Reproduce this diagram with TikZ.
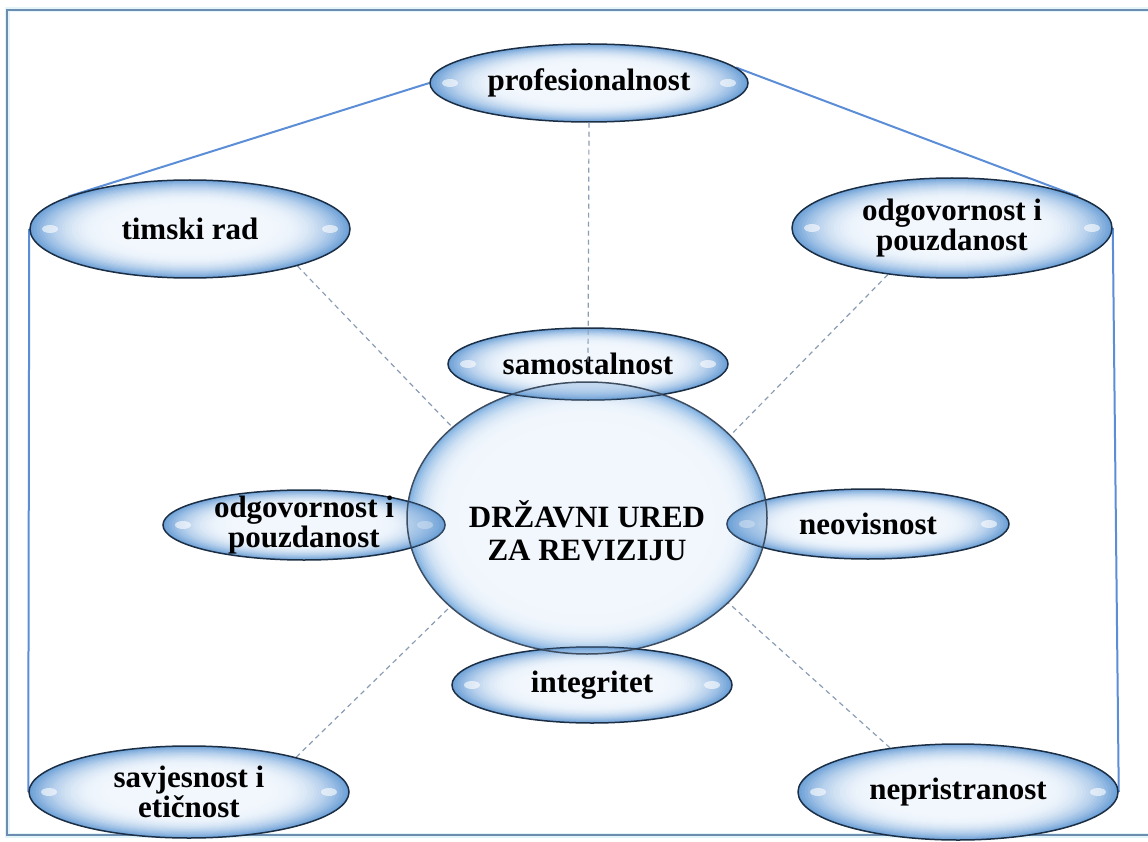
\documentclass[tikz,border=0pt]{standalone}
\usepackage{fontspec}
\setmainfont{Liberation Serif}
\usetikzlibrary{shapes.geometric,backgrounds,calc}
\definecolor{outl}{HTML}{1C2E44}
\definecolor{bubin}{HTML}{F2F7FD}
\definecolor{bubout}{HTML}{6FA2D8}
\definecolor{circout}{HTML}{7FB0E0}
\definecolor{conn}{HTML}{5B8ED6}
\definecolor{dashcol}{HTML}{8A9DB5}
\definecolor{framec}{HTML}{6D8DB0}
\definecolor{glowc}{HTML}{E4F5FA}
\begin{document}
\begin{tikzpicture}[x=1pt,y=-1pt,
  bubgen/.style n args={5}{ellipse, draw=outl, line width=1.5pt, inner sep=-8pt,
    minimum width=2*#1, minimum height=2*#2,
    font=\fontsize{31}{26}\selectfont\bfseries, text=black, align=center,
    path picture={
      \foreach \k in {0,...,24}{
        \pgfmathsetmacro\s{1-#4*\k}
        \pgfmathtruncatemacro\c{100*(1-(1-\k/24)^#3)}
        \fill[bubin!\c!#5] (path picture bounding box.center) ellipse ({\s*#1} and {\s*#2});
      }
      \fill[white,opacity=0.6] ($(path picture bounding box.west)+(20,0)$) ellipse (8 and 4);
      \fill[white,opacity=0.6] ($(path picture bounding box.east)+(-20,0)$) ellipse (8 and 4);
    }},
  bub/.style 2 args={bubgen={#1}{#2}{2.2}{0.02}{bubout}},
  solidc/.style={draw=conn, line width=2pt},
  dashc/.style={draw=dashcol, line width=1.2pt, dash pattern=on 5pt off 4pt},
]
\useasboundingbox (0,0) rectangle (1148,842);

% central circle
\node[bubgen={180}{136}{3.5}{0.012}{circout}, draw=outl!85,
      label={[font=\fontsize{31}{33}\selectfont\bfseries, text=black, align=center, yshift=-13pt]center:DRŽAVNI URED\\ZA REVIZIJU}]
      (center) at (587,518) {};

% outer ellipses
\node[bub={159}{39}] (prof) at (589,83) {profesionalnost};
\node[bub={160}{49}] (timski) at (190,229) {timski rad};
\node[bub={160}{50}] (odgR) at (952,228) {odgovornost i\\pouzdanost};
\node[bub={160}{46}] (savj) at (189,792) {savjesnost i\\etičnost};
\node[bub={160}{48}] (nep) at (958,792) {nepristranost};

% ellipses overlapping the circle
\node[bub={140}{36}] (samost) at (588,364) {samostalnost};
\node[bub={141}{35}] (odgL) at (304,525) {odgovornost i\\pouzdanost};
\node[bub={141}{35}] (neov) at (868,524) {neovisnost};
\node[bub={140}{38}] (integ) at (592,685) {integritet};

% overlap regions: circle shows through
\foreach \n/\a/\b in {samost/140/36, odgL/141/35, neov/141/35, integ/140/38}{
  \begin{scope}
    \clip (\n.center) ellipse ({\a} and {\b});
    \fill[bubout, opacity=0.35] (center.center) ellipse (180 and 136);
    \draw[outl!85, line width=1.5pt] (center.center) ellipse (180 and 136);
  \end{scope}
}

\draw[dashc] (prof.south) -- (samost.center);

\begin{pgfonlayer}{background}
  \draw[glowc, line width=5pt] (7,10) rectangle (1175,835);
  \draw[framec, line width=1.6pt] (7,10) rectangle (1175,835);
  \draw[solidc] (timski.165) -- (prof.west);
  \draw[solidc] (prof.6) -- (odgR.14);
  \draw[solidc] (timski.west) -- (savj.west);
  \draw[solidc] (odgR.east) -- (nep.east);
  \draw[dashc] (timski.-19) -- (center.146);
  \draw[dashc] (odgR.-144) -- (center.30);
  \draw[dashc] (savj.18) -- (center.213);
  \draw[dashc] (nep.147) -- (center.-31);
\end{pgfonlayer}
\end{tikzpicture}
\end{document}
